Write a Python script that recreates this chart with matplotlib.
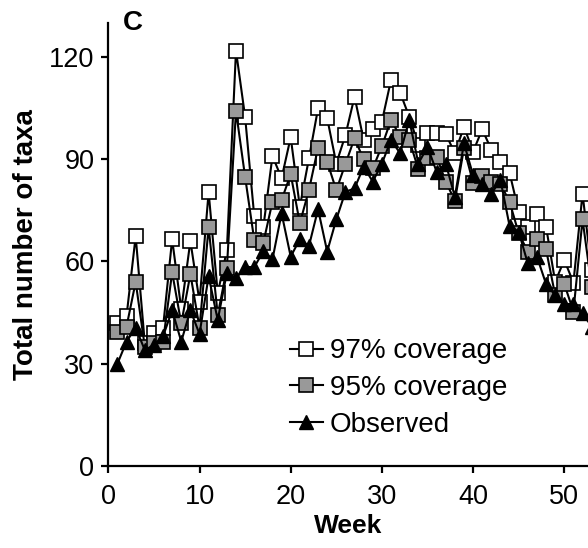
import numpy as np
import matplotlib
matplotlib.use("Agg")
import matplotlib.pyplot as plt

plt.rcParams['font.family'] = ['Liberation Sans', 'DejaVu Sans']

# dados (semanas 1-53)
semanas = list(range(1, 54))
cob97 = [41.8, 44, 67.4, 36, 39, 40.6, 66.5, 46, 66, 48.2,
         80.3, 50.6, 63.3, 121.8, 102.4, 73.3, 70, 90.9, 84.4, 96.4,
         76, 90.2, 104.9, 102, 88.7, 97, 108.3, 95.6, 98.7, 101,
         113.2, 109.5, 102.4, 94.1, 97.7, 97.7, 97.4, 91.7, 99.5, 92.2,
         98.7, 92.8, 89.2, 86, 74.6, 70.2, 73.9, 70.2, 54, 60.4,
         53.8, 79.8, 57.5]
cob95 = [39.4, 40.9, 54, 35, 36, 36.5, 56.8, 41.8, 56.3, 40.6,
         70, 44.3, 58, 104.1, 84.8, 66.3, 65.5, 77.5, 78, 85.6,
         71.2, 80.9, 93.4, 89.2, 80.9, 88.6, 96.1, 89.9, 87.3, 93.8,
         101.5, 96.6, 95.6, 87, 90.2, 90.7, 83.4, 77.8, 93.2, 83.1,
         85, 83.4, 82.7, 77.5, 68.2, 62.9, 66.5, 63.5, 50.1, 53.4,
         45.3, 72.3, 52.6]
observado = [30, 36.5, 40.6, 34, 35.5, 38, 45.7, 36.5, 45.7, 38.7,
             55.7, 42.8, 56.7, 55, 58.4, 58.3, 63, 60.6, 74.1, 61.4,
             66.5, 64.5, 75.3, 62.9, 72.3, 80.4, 81.4, 87.8, 83.4, 88.7,
             95.6, 91.7, 101.5, 88.7, 93.6, 86.3, 88.7, 79, 94.6, 85.3,
             82.7, 79.8, 83.9, 70.4, 68.7, 59.4, 61.4, 53.4, 50.1, 47.5,
             47.5, 44.8, 40.9]

fig = plt.figure(figsize=(5.88, 5.48), dpi=100)
ax = fig.add_axes([0.1842, 0.1496, 0.8158, 0.809])

h97, = ax.plot(semanas, cob97, color="black", lw=1.5, marker="s", ms=9.5,
               mfc="white", mec="black", mew=1.2, label="97% coverage")
h95, = ax.plot(semanas, cob95, color="black", lw=1.5, marker="s", ms=9.5,
               mfc="#999999", mec="black", mew=1.2, label="95% coverage")
hob, = ax.plot(semanas, observado, color="black", lw=1.5, marker="^", ms=10,
               mfc="black", mec="black", label="Observed")

ax.set_xlim(0, 52.6)
ax.set_ylim(0, 130)
ax.set_xticks([0, 10, 20, 30, 40, 50])
ax.set_yticks([0, 30, 60, 90, 120])
ax.spines["top"].set_visible(False)
ax.spines["right"].set_visible(False)
for s in ["left", "bottom"]:
    ax.spines[s].set_linewidth(1.6)
ax.tick_params(direction="out", length=5, width=1.6, labelsize=19.5)
ax.tick_params(axis="x", pad=8)
ax.tick_params(axis="y", pad=5)

ax.set_xlabel("Week", fontsize=19, fontweight="bold", labelpad=3)
ax.set_ylabel("Total number of taxa", fontsize=20, fontweight="bold", labelpad=7)
ax.text(0.03, 1.0, "C", transform=ax.transAxes, fontsize=20,
        fontweight="bold", va="center", ha="left")

ax.legend(handles=[h97, h95, hob], loc="center left",
          bbox_to_anchor=(0.378, 0.176), frameon=False, fontsize=20,
          handlelength=1.2, handletextpad=0.25, labelspacing=0.38,
          borderpad=0, borderaxespad=0)

fig.savefig("out.png", dpi=100)
